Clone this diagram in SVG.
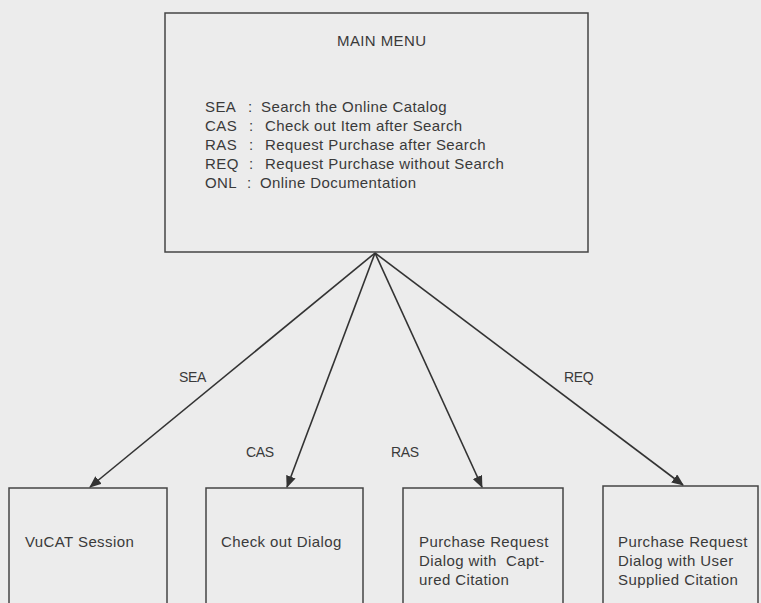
<svg xmlns="http://www.w3.org/2000/svg" width="761" height="603" viewBox="0 0 761 603">
<defs>
<marker id="arr" viewBox="0 0 12 10" refX="11" refY="5" markerWidth="12" markerHeight="10" markerUnits="userSpaceOnUse" orient="auto">
<path d="M0,0 L12,5 L0,10 Z" fill="#333"/>
</marker>
</defs>
<style>
.box{fill:none;stroke:#444;stroke-width:1.5}
.t{font-family:"Liberation Sans",Arial,sans-serif;font-size:15px;letter-spacing:0.4px;fill:#3a3a3a}
.lbl{font-family:"Liberation Sans",Arial,sans-serif;font-size:14px;letter-spacing:-0.3px;fill:#3a3a3a}
.edge{stroke:#333;stroke-width:1.6;fill:none;marker-end:url(#arr)}
</style>
<rect width="761" height="603" fill="#ececec"/>
<g id="main-menu">
<rect class="box" x="165" y="13" width="423" height="239"/>
<text class="t" x="337" y="46">MAIN MENU</text>
<text class="t" x="205" y="112">SEA</text><text class="t" x="248" y="112">:</text><text class="t" x="261" y="112">Search the Online Catalog</text>
<text class="t" x="205" y="131">CAS</text><text class="t" x="249" y="131">:</text><text class="t" x="265" y="131">Check out Item after Search</text>
<text class="t" x="205" y="150">RAS</text><text class="t" x="249" y="150">:</text><text class="t" x="265" y="150">Request Purchase after Search</text>
<text class="t" x="205" y="169">REQ</text><text class="t" x="249" y="169">:</text><text class="t" x="265" y="169">Request Purchase without Search</text>
<text class="t" x="205" y="188">ONL</text><text class="t" x="247" y="188">:</text><text class="t" x="260" y="188">Online Documentation</text>
</g>
<g id="vucat">
<rect class="box" x="9" y="488" width="158" height="130"/>
<text class="t" x="25" y="547">VuCAT Session</text>
</g>
<g id="checkout">
<rect class="box" x="206" y="488" width="157" height="130"/>
<text class="t" x="221" y="547">Check out Dialog</text>
</g>
<g id="purchase-captured">
<rect class="box" x="403" y="488" width="160" height="130"/>
<text class="t" x="419" y="547">Purchase Request</text>
<text class="t" x="419" y="566" xml:space="preserve">Dialog with  Capt-</text>
<text class="t" x="419" y="585">ured Citation</text>
</g>
<g id="purchase-user">
<rect class="box" x="603" y="486" width="155" height="130"/>
<text class="t" x="618" y="547">Purchase Request</text>
<text class="t" x="618" y="566">Dialog with User</text>
<text class="t" x="618" y="585">Supplied Citation</text>
</g>
<g id="connectors">
<line class="edge" x1="375" y1="253" x2="90" y2="487"/>
<line class="edge" x1="375" y1="253" x2="287" y2="487"/>
<line class="edge" x1="375" y1="253" x2="482" y2="487"/>
<line class="edge" x1="375" y1="253" x2="683" y2="485"/>
<text class="lbl" x="179" y="382">SEA</text>
<text class="lbl" x="246" y="457">CAS</text>
<text class="lbl" x="391" y="457">RAS</text>
<text class="lbl" x="564" y="382">REQ</text>
</g>
</svg>
